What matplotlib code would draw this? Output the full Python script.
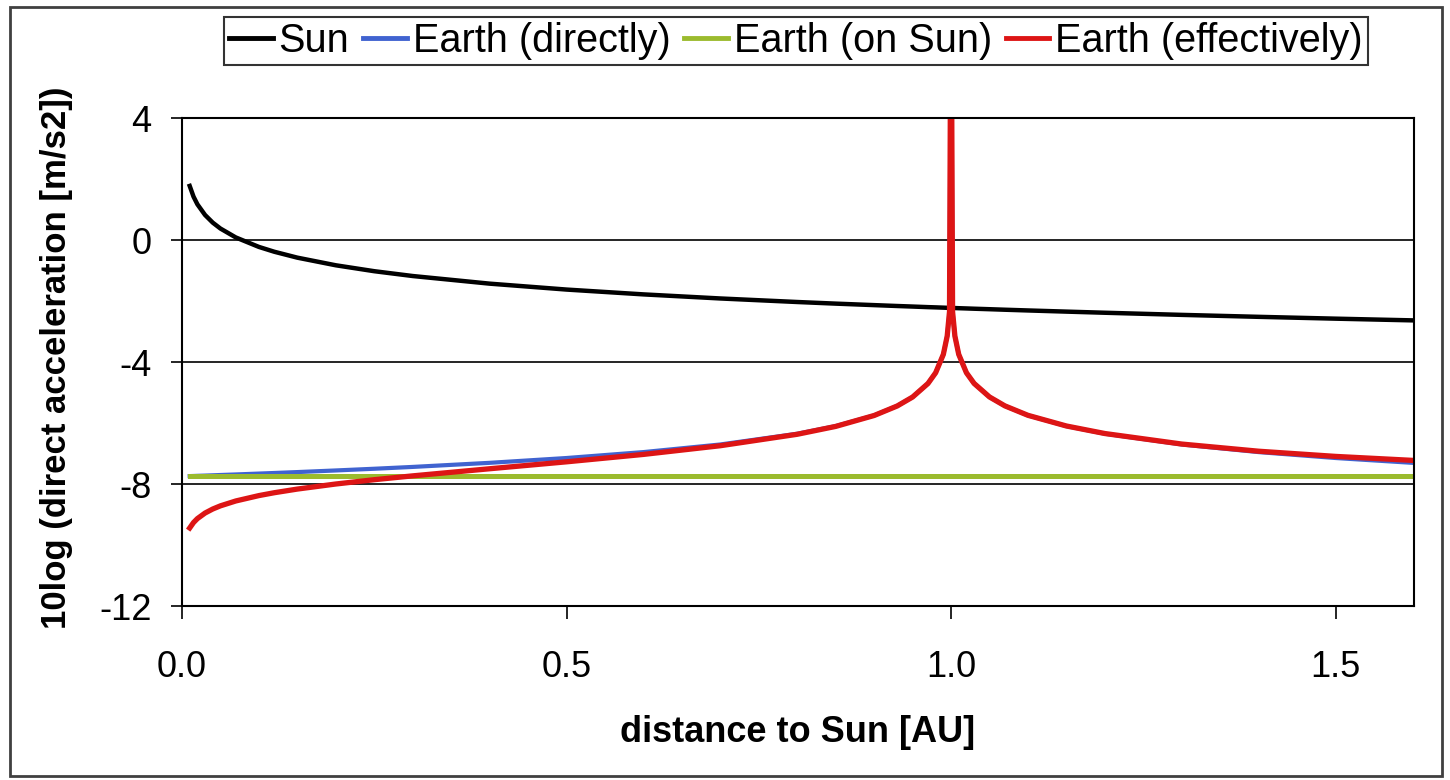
import matplotlib
matplotlib.use("Agg")
import matplotlib.pyplot as plt
from matplotlib.patches import Rectangle

plt.rcParams["font.family"] = ["Liberation Sans", "DejaVu Sans"]
plt.rcParams["axes.unicode_minus"] = False

# distance to Sun [AU]
dist = [0.01, 0.015, 0.02, 0.03, 0.04, 0.05, 0.07, 0.1, 0.12, 0.15, 0.2,
        0.25, 0.3, 0.4, 0.5, 0.6, 0.7, 0.8, 0.85, 0.9, 0.93, 0.95, 0.97,
        0.98, 0.99, 0.995, 0.998, 1.0, 1.002, 1.005, 1.01, 1.02, 1.03,
        1.05, 1.07, 1.1, 1.15, 1.2, 1.3, 1.4, 1.5, 1.6]

# 10log of acceleration [m/s2]
sun = [1.773, 1.421, 1.171, 0.819, 0.569, 0.375, 0.083, -0.227, -0.385,
       -0.579, -0.829, -1.023, -1.181, -1.431, -1.625, -1.783, -1.917,
       -2.033, -2.086, -2.135, -2.164, -2.182, -2.201, -2.209, -2.218,
       -2.223, -2.225, -2.227, -2.229, -2.231, -2.236, -2.244, -2.253,
       -2.269, -2.286, -2.310, -2.348, -2.385, -2.455, -2.519, -2.579,
       -2.635]
earth_direct = [-7.741, -7.737, -7.732, -7.724, -7.715, -7.705, -7.687,
                -7.658, -7.639, -7.609, -7.556, -7.500, -7.440, -7.306,
                -7.148, -6.954, -6.704, -6.352, -6.102, -5.750, -5.440,
                -5.148, -4.704, -4.352, -3.750, -3.148, -2.352, 10.0,
                -2.352, -3.148, -3.750, -4.352, -4.704, -5.148, -5.440,
                -5.750, -6.102, -6.352, -6.704, -6.954, -7.148, -7.306]
earth_on_sun = [-7.75] * len(dist)
earth_eff = [-9.442, -9.263, -9.135, -8.952, -8.820, -8.716, -8.556,
             -8.380, -8.286, -8.166, -8.000, -7.859, -7.733, -7.500,
             -7.273, -7.030, -6.745, -6.370, -6.112, -5.754, -5.442,
             -5.149, -4.705, -4.352, -3.750, -3.148, -2.352, 10.0,
             -2.352, -3.148, -3.750, -4.352, -4.703, -5.146, -5.438,
             -5.748, -6.098, -6.345, -6.690, -6.925, -7.095, -7.225]

yticks = [4, 0, -4, -8, -12]
xticks = [0.0, 0.5, 1.0, 1.5]

W, H = 1450, 780
fig = plt.figure(figsize=(W / 100, H / 100), dpi=100)
ax = fig.add_axes([182 / W, 1 - 606 / H, (1414 - 182) / W, (606 - 118) / H])

ax.plot(dist, sun, color="black", lw=3.2, label="Sun")
ax.plot(dist, earth_direct, color="#4063D0", lw=3.0, label="Earth (directly)")
ax.plot(dist, earth_on_sun, color="#9BBB2E", lw=3.6, label="Earth (on Sun)")
ax.plot(dist, earth_eff, color="#DD1515", lw=3.8, label="Earth (effectively)")

ax.set_xlim(0, 1.602)
ax.set_ylim(-12, 4)
ax.set_yticks(yticks)
ax.set_yticklabels([str(v) for v in yticks])
ax.set_xticks(xticks)
ax.set_xticklabels([f"{v:.1f}" for v in xticks])
for v in yticks[1:-1]:
    ax.axhline(v, color="black", lw=1.2, zorder=0)

for s in ax.spines.values():
    s.set_linewidth(1.5)
    s.set_color("black")
ax.tick_params(axis="y", direction="out", length=8, width=1.2,
               labelsize=26, pad=14)
ax.tick_params(axis="x", direction="out", length=9, width=1.2,
               labelsize=26, pad=23)

fig.text(798 / W, 1 - 742 / H, "distance to Sun [AU]", fontsize=26,
         fontweight="bold", ha="center", va="baseline")
fig.text(57 / W, 1 - 358 / H, "10log (direct acceleration [m/s2])",
         fontsize=25, fontweight="bold", rotation=90,
         ha="center", va="center")

leg = fig.legend(loc="center", bbox_to_anchor=(796 / W, 1 - 41 / H),
                 ncol=4, fontsize=28.5, frameon=True, fancybox=False,
                 handlelength=1.1, handletextpad=0.15, columnspacing=0.35,
                 borderpad=0.12, borderaxespad=0)
leg.get_frame().set_edgecolor("black")
leg.get_frame().set_linewidth(1.5)
for h in leg.get_lines():
    h.set_linewidth(3.5)

fig.patches.append(Rectangle((10 / W, 1 - 776 / H), 1432 / W, 769 / H,
                             transform=fig.transFigure, fill=False,
                             edgecolor="#404040", lw=2))

fig.savefig("out.png", dpi=100)
